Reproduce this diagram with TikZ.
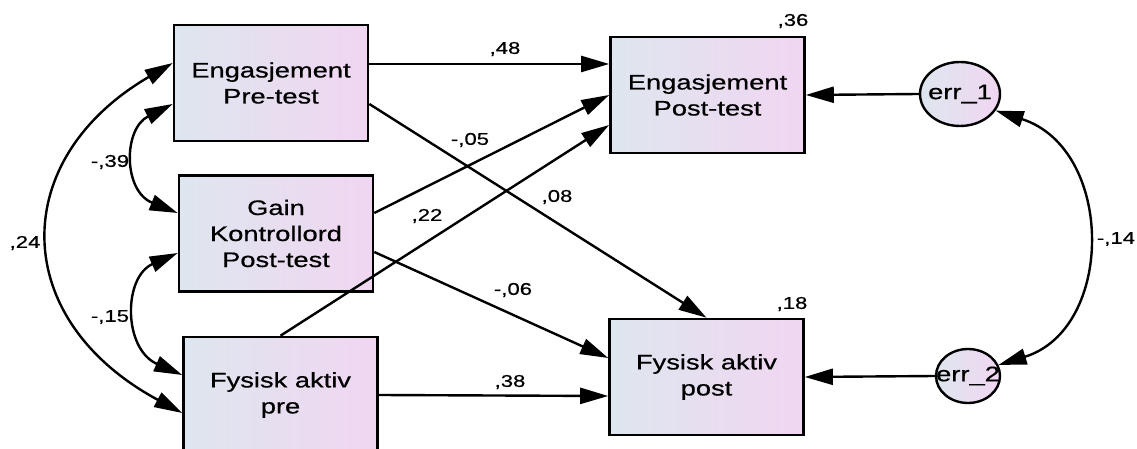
\documentclass[tikz,border=0pt]{standalone}
\usepackage{fontspec}
\newfontfamily\amosfont{Liberation Sans}[FakeStretch=1.3, FakeBold=0.6]
\usetikzlibrary{arrows.meta,shapes.geometric}
\definecolor{boxleft}{RGB}{222,230,239}
\definecolor{boxright}{RGB}{241,214,241}

\begin{document}
\begin{tikzpicture}[x=1pt, y=1pt, >={Triangle[length=28pt,width=16pt]}, line width=2.4pt,
	every node/.style={font=\amosfont\fontsize{21}{26}\selectfont, text=black},
	var/.style={draw, line width=2.6pt, left color=boxleft, right color=boxright, align=center, minimum width=194pt, minimum height=116pt, inner sep=0pt},
	err/.style={ellipse, draw, line width=2.4pt, left color=boxleft, right color=boxright, inner sep=0pt},
	num/.style={font=\amosfont\fontsize{17}{20}\selectfont, inner sep=0pt}]
	\useasboundingbox (0,0) rectangle (1137,449);
	
	% observerte variabler
	\node[var] (EngPre) at (271,366) {Engasjement\\Pre-test};
	\node[var] (Gain) at (276,215.5) {Gain\\Kontrollord\\Post-test};
	\node[var] (FysPre) at (280.5,54) {Fysisk aktiv\\pre};
	\node[var] (EngPost) at (707.5,354) {Engasjement\\Post-test};
	\node[var] (FysPost) at (706.5,72) {Fysisk aktiv\\post};
	
	% feilledd
	\node[err, minimum width=80pt, minimum height=64pt] (err1) at (960,355) {\makebox[0pt]{err\_1}};
	\node[err, minimum width=64pt, minimum height=54pt] (err2) at (968,73) {\makebox[0pt]{err\_2}};
	
	% regresjonsstier
	\draw[->] ([yshift=19pt]EngPre.east) -- ([yshift=31pt]EngPost.west);
	\draw[->] ([yshift=-21pt]EngPre.east) -- (FysPost.north);
	\draw[->] ([yshift=20.5pt]Gain.east) -- (EngPost.west);
	\draw[->] (FysPre.north) -- ([yshift=-30pt]EngPost.west);
	\draw[->] ([yshift=-18.5pt]Gain.east) -- ([yshift=19pt]FysPost.west);
	\draw[->] (FysPre.east) -- ([yshift=-19pt]FysPost.west);
	\draw[->] (err1.west) -- (EngPost.east);
	\draw[->] (err2.west) -- (FysPost.east);
	
	% kovarianser
	\draw[<->] ([yshift=20pt]EngPre.west) .. controls (8,290) and (8,130) .. ([yshift=-18pt]FysPre.west);
	\draw[<->] ([yshift=-21pt]EngPre.west) .. controls (123,320) and (123,258) .. ([yshift=20.5pt]Gain.west);
	\draw[<->] ([yshift=-19.5pt]Gain.west) .. controls (123,172) and (123,100) .. ([yshift=20pt]FysPre.west);
	\draw[<->] (err1.-25) .. controls (1115,300) and (1115,120) .. (err2.20);
	
	% estimater
	\node[num] (w48) at (505,400) {,48};
	\node[num] (w05) at (470,309) {-,05};
	\node[num] (w08) at (557,252) {,08};
	\node[num] (w22) at (427,233) {,22};
	\node[num] (w06) at (513,159) {-,06};
	\node[num] (w38) at (510,67) {,38};
	\node[num] (w39) at (110,287) {-,39};
	\node[num] (w15) at (110,132) {-,15};
	\node[num] (w24) at (25,206) {,24};
	\node[num] (w14) at (1116,210) {-,14};
	\node[num] (r36) at (793,428) {,36};
	\node[num] (r18) at (792,145) {,18};
\end{tikzpicture}
\end{document}
